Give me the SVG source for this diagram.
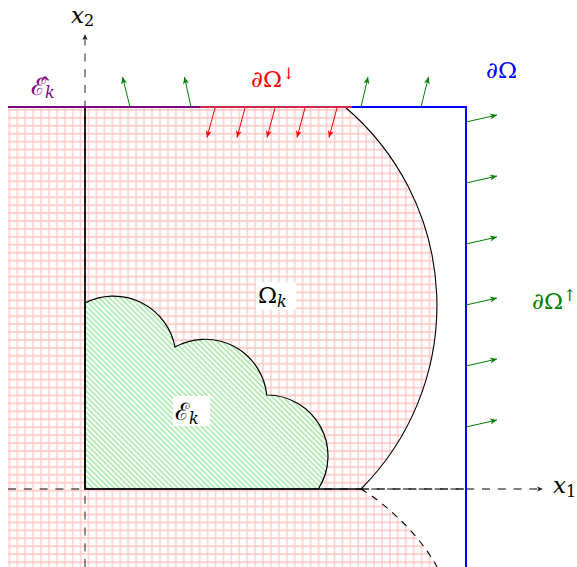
<svg xmlns="http://www.w3.org/2000/svg" width="577" height="567" viewBox="0 0 577 567">
<style>
text{font-family:'DejaVu Serif','Liberation Serif',serif;font-size:23px}
.it{font-style:italic}
.scr{font-family:'DejaVu Serif',serif;font-size:24px}
.sub{font-size:16px}
.axis{stroke:#555;stroke-width:1.3;stroke-dasharray:8 7.8;fill:none}
.gn{stroke:#008000;stroke-width:1;fill:none;marker-end:url(#ag)}
.rd{stroke:#ff0000;stroke-width:1;fill:none;marker-end:url(#ar)}
</style>
<defs>
<pattern id="grid" patternUnits="userSpaceOnUse" x="5.335" y="106.035" width="7.93" height="7.93">
<path d="M3.965,0V7.93M0,3.965H7.93" stroke="#ffc4c4" stroke-width="1.25" fill="none"/>
</pattern>
<pattern id="hatch" patternUnits="userSpaceOnUse" width="3.75" height="10" patternTransform="rotate(-45)">
<rect width="3.75" height="10" fill="#fff"/>
<path d="M1.875,0V10" stroke="#6ee06e" stroke-width="1"/>
</pattern>
<marker id="ag" markerUnits="userSpaceOnUse" markerWidth="10" markerHeight="10" refX="0" refY="0" viewBox="-8 -5 10 10" orient="auto"><path d="M0,0L-7,-3L-5,0L-7,3Z" fill="#008000"/></marker>
<marker id="ar" markerUnits="userSpaceOnUse" markerWidth="10" markerHeight="10" refX="0" refY="0" viewBox="-8 -5 10 10" orient="auto"><path d="M0,0L-7,-3L-5,0L-7,3Z" fill="#ff0000"/></marker>
<marker id="ak" markerUnits="userSpaceOnUse" markerWidth="10" markerHeight="10" refX="0" refY="0" viewBox="-8 -5 10 10" orient="auto"><path d="M0,0L-6,-2.6L-4.5,0L-6,2.6Z" fill="#222"/></marker>
</defs>
<rect width="577" height="567" fill="#fff"/>

<g id="omega-k-region">
<path d="M8,107 L345,107 A260,260 0 0 1 361,489 C385,503 420,535 437,567 L8,567 Z" fill="url(#grid)"/>
</g>

<g id="e-k-region">
<path d="M85,489 L85,303 A62.5,62.5 0 0 1 175,347 A62,62 0 0 1 266.7,395 A61,61 0 0 1 318.3,489 Z" fill="url(#hatch)" stroke="#000" stroke-width="1.2"/>
</g>

<g id="axes">
<line class="axis" x1="8" y1="489" x2="543" y2="489" marker-end="url(#ak)"/>
<line class="axis" x1="85" y1="567" x2="85" y2="34" marker-end="url(#ak)"/>
</g>

<g id="omega-k-boundary" fill="none" stroke="#000">
<path d="M85,107 V489 H361" stroke-width="1.7"/>
<path d="M345,107 A260,260 0 0 1 361,489" stroke-width="1.1"/>
<line x1="361" y1="489" x2="466" y2="489" stroke="#222" stroke-width="1.6" stroke-dasharray="8 7.8"/>
<path d="M361,489 C385,503 420,535 437,567" stroke-width="1.1" stroke-dasharray="7 6"/>
</g>

<g id="domain-boundary" fill="none">
<line x1="8" y1="107" x2="200" y2="107" stroke="#800080" stroke-width="2.2"/>
<line x1="200" y1="107" x2="352" y2="107" stroke="#d02a4a" stroke-width="2.2"/>
<path d="M352,107 H466 V567" stroke="#0000ff" stroke-width="2"/>
</g>

<g id="connectors">
<line class="gn" x1="130" y1="107" x2="122.5" y2="77"/>
<line class="gn" x1="191" y1="107" x2="184.5" y2="77"/>
<line class="gn" x1="361" y1="107" x2="368" y2="77"/>
<line class="gn" x1="421" y1="107" x2="428.5" y2="77"/>
<line class="gn" x1="466" y1="122" x2="497" y2="115"/>
<line class="gn" x1="466" y1="183" x2="497" y2="176"/>
<line class="gn" x1="466" y1="244" x2="497" y2="237"/>
<line class="gn" x1="466" y1="305" x2="497" y2="298"/>
<line class="gn" x1="466" y1="366" x2="497" y2="359"/>
<line class="gn" x1="466" y1="427" x2="497" y2="420"/>
<line class="rd" x1="215" y1="108" x2="207" y2="137.5"/>
<line class="rd" x1="245" y1="108" x2="237" y2="137.5"/>
<line class="rd" x1="275" y1="108" x2="267" y2="137.5"/>
<line class="rd" x1="305" y1="108" x2="297" y2="137.5"/>
<line class="rd" x1="337" y1="108" x2="329" y2="137.5"/>
</g>

<g id="labels">
<rect x="256" y="282" width="40" height="28" fill="#fff"/>
<text x="258" y="303">Ω<tspan class="it sub" dy="4">k</tspan></text>
<rect x="173" y="396" width="37" height="30" fill="#fff"/>
<text x="175" y="420"><tspan class="scr">ℰ</tspan><tspan class="it sub" dy="4">k</tspan></text>
<text x="31" y="95" fill="#800080"><tspan class="scr">ℰ̂</tspan><tspan class="it sub" dy="3">k</tspan></text>
<text x="251" y="87" fill="#ff0000">∂Ω<tspan class="sub" dy="-8">↓</tspan></text>
<text x="486" y="78" fill="#0000ff">∂Ω</text>
<text x="532" y="309" fill="#008000">∂Ω<tspan class="sub" dy="-8">↑</tspan></text>
<text x="71" y="23"><tspan class="it">x</tspan><tspan class="sub" dy="3">2</tspan></text>
<text x="553" y="493"><tspan class="it">x</tspan><tspan class="sub" dy="4">1</tspan></text>
</g>
</svg>
